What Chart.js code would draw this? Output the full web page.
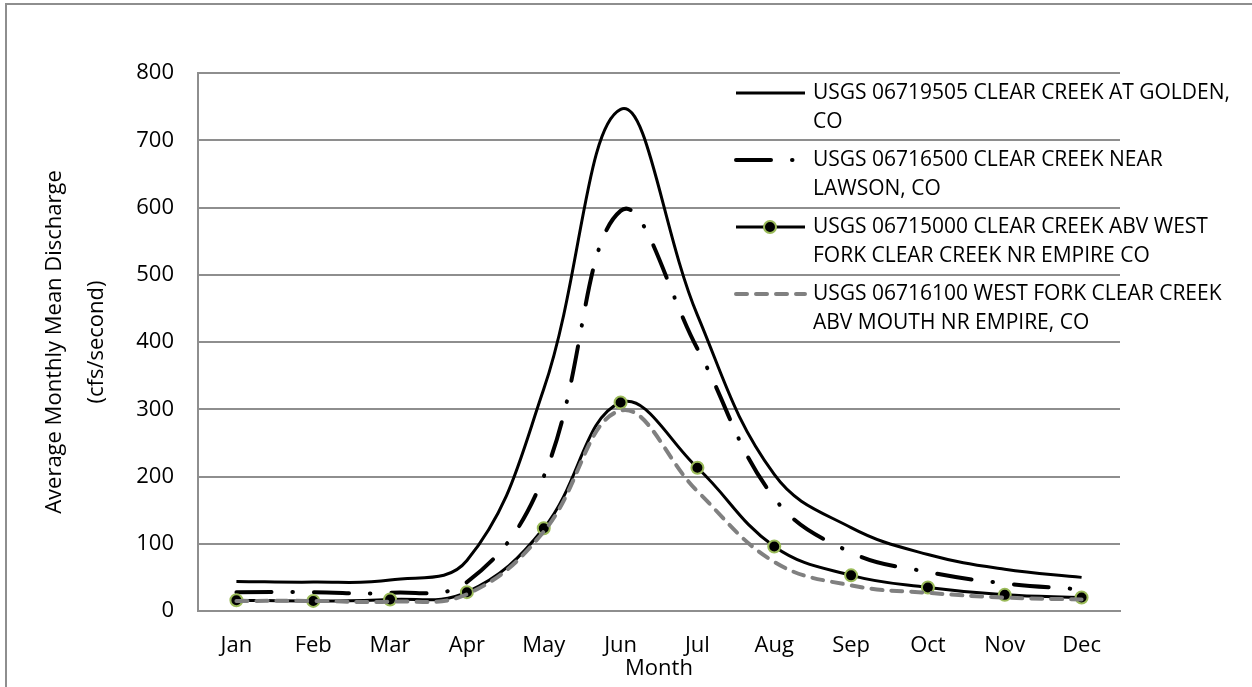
<!DOCTYPE html>
<html>
<head>
<meta charset="utf-8">
<script src="https://cdn.jsdelivr.net/npm/chart.js@4"></script>
<style>
  html, body { margin: 0; padding: 0; background: #fff; overflow: hidden; }
  #wrap { position: relative; width: 1252px; height: 687px; overflow: hidden; }
  #frame { position: absolute; left: 5px; top: 3px; width: 1400px; height: 900px;
           border-left: 2px solid #8e8e8e; border-top: 2px solid #8e8e8e; }
  canvas { position: absolute; left: 0; top: 0; }
</style>
</head>
<body>
<div id="wrap">
  <div id="frame"></div>
  <canvas id="flowChart" width="1252" height="687"></canvas>
</div>
<script>
// Data
const months = ['Jan', 'Feb', 'Mar', 'Apr', 'May', 'Jun', 'Jul', 'Aug', 'Sep', 'Oct', 'Nov', 'Dec'];
const golden = [44, 43, 46, 75, 330, 746, 440, 203, 124, 84, 62, 50];
const lawson = [28, 28, 27, 43, 200, 595, 390, 168, 87, 58, 41, 32];
const empire = [16, 15, 17, 28, 123, 310, 213, 96, 53, 35, 24, 20];
const westFork = [15, 15, 14, 25, 118, 298, 178, 73, 38, 27, 20, 17];

const seriesNames = [
    ['USGS 06719505 CLEAR CREEK AT GOLDEN,', 'CO'],
    ['USGS 06716500 CLEAR CREEK NEAR', 'LAWSON, CO'],
    ['USGS 06715000 CLEAR CREEK ABV WEST', 'FORK CLEAR CREEK NR EMPIRE CO'],
    ['USGS 06716100 WEST FORK CLEAR CREEK', 'ABV MOUTH NR EMPIRE, CO']
];
const yTitle = ['Average Monthly Mean Discharge', '(cfs/second)'];
const xTitle = 'Month';

const FONT = '"Open Sans", sans-serif';
const GRID = '#8e8e8e';
const MARKER_GREEN = '#9bbb59';

Chart.defaults.font.family = FONT;
Chart.defaults.font.size = 22;
Chart.defaults.color = '#000';

// Legend drawn on the canvas, to the right over the plot (like the Excel original)
const sideLegend = {
    id: 'sideLegend',
    afterDraw(chart) {
        const ctx = chart.ctx;
        ctx.save();
        ctx.font = '21px ' + FONT;
        ctx.fillStyle = '#000';
        ctx.textBaseline = 'middle';
        chart.data.datasets.forEach((ds, i) => {
            const y = 93 + i * 67;
            ctx.beginPath();
            ctx.setLineDash(ds.borderDash || []);
            ctx.lineCap = ds.borderCapStyle || 'butt';
            ctx.strokeStyle = ds.borderColor;
            ctx.lineWidth = ds.borderWidth;
            ctx.moveTo(736, y);
            ctx.lineTo(805, y);
            ctx.stroke();
            ctx.setLineDash([]);
            if (ds.pointRadius > 0) {
                ctx.beginPath();
                ctx.arc(770, y, ds.pointRadius, 0, Math.PI * 2);
                ctx.fillStyle = ds.pointBackgroundColor;
                ctx.fill();
                ctx.lineWidth = ds.pointBorderWidth;
                ctx.strokeStyle = ds.pointBorderColor;
                ctx.stroke();
                ctx.fillStyle = '#000';
            }
            seriesNames[i].forEach((t, j) => ctx.fillText(t, 813, y + j * 29));
        });
        ctx.restore();
    }
};

const ctx = document.getElementById('flowChart').getContext('2d');
const flowChart = new Chart(ctx, {
    type: 'line',
    data: {
        labels: months,
        datasets: [
            {
                label: seriesNames[0].join(' '),
                data: golden,
                borderColor: '#000',
                borderWidth: 3,
                pointRadius: 0,
                tension: 0.4,
                order: 4
            },
            {
                label: seriesNames[1].join(' '),
                data: lawson,
                borderColor: '#000',
                borderWidth: 4,
                borderDash: [35, 21, 0.5, 21],
                borderCapStyle: 'round',
                pointRadius: 0,
                tension: 0.4,
                order: 3
            },
            {
                label: seriesNames[2].join(' '),
                data: empire,
                borderColor: '#000',
                borderWidth: 3,
                pointRadius: 6,
                pointBackgroundColor: '#000',
                pointBorderColor: MARKER_GREEN,
                pointBorderWidth: 2,
                tension: 0.4,
                order: 2
            },
            {
                label: seriesNames[3].join(' '),
                data: westFork,
                borderColor: '#808080',
                borderWidth: 4,
                borderDash: [11, 9],
                borderCapStyle: 'round',
                pointRadius: 0,
                tension: 0.4,
                order: 1
            }
        ]
    },
    options: {
        responsive: false,
        animation: false,
        layout: { padding: { top: 73, right: 132, bottom: 0, left: 0 } },
        plugins: {
            legend: { display: false },
            tooltip: { enabled: false }
        },
        scales: {
            x: {
                offset: true,
                grid: { display: false, drawTicks: false },
                border: { color: GRID, width: 2 },
                ticks: { padding: 22, maxRotation: 0, autoSkip: false },
                title: { display: true, text: xTitle, padding: { top: 0, bottom: 5 } },
                afterFit: (scale) => { scale.height = 76; }
            },
            y: {
                min: 0,
                max: 800,
                grid: { color: GRID, lineWidth: 2, drawTicks: false },
                border: { color: GRID, width: 2 },
                ticks: { stepSize: 100, padding: 24 },
                title: {
                    display: true,
                    text: yTitle,
                    font: { size: 22, lineHeight: '42px' },
                    padding: { top: 34, bottom: 0 }
                },
                afterFit: (scale) => { scale.width = 198; }
            }
        }
    },
    plugins: [sideLegend]
});
</script>
</body>
</html>
